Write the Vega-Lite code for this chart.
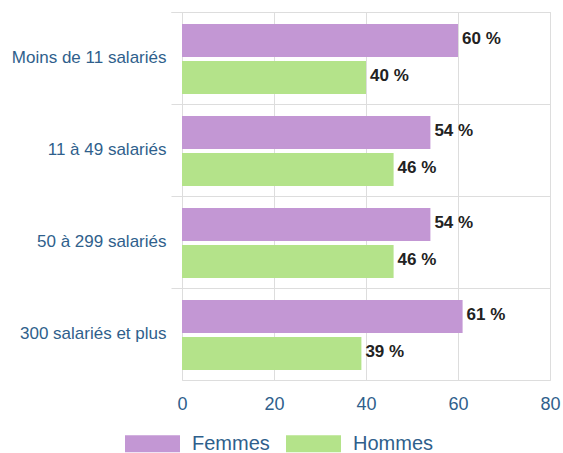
{
  "$schema": "https://vega.github.io/schema/vega-lite/v6.json",
  "width": 368,
  "height": 368,
  "autosize": {"type": "none"},
  "padding": {"left": 182, "top": 12, "right": 13, "bottom": 73},
  "background": "white",
  "config": {
    "view": {"stroke": "#dddddd"},
    "font": "Liberation Sans"
  },
  "data": {
    "values": [
      {"taille": "Moins de 11 salariés", "sexe": "Femmes", "part": 60, "label": "60 %"},
      {"taille": "Moins de 11 salariés", "sexe": "Hommes", "part": 40, "label": "40 %"},
      {"taille": "11 à 49 salariés", "sexe": "Femmes", "part": 54, "label": "54 %"},
      {"taille": "11 à 49 salariés", "sexe": "Hommes", "part": 46, "label": "46 %"},
      {"taille": "50 à 299 salariés", "sexe": "Femmes", "part": 54, "label": "54 %"},
      {"taille": "50 à 299 salariés", "sexe": "Hommes", "part": 46, "label": "46 %"},
      {"taille": "300 salariés et plus", "sexe": "Femmes", "part": 61, "label": "61 %"},
      {"taille": "300 salariés et plus", "sexe": "Hommes", "part": 39, "label": "39 %"}
    ]
  },
  "encoding": {
    "y": {
      "field": "taille",
      "type": "nominal",
      "sort": ["Moins de 11 salariés", "11 à 49 salariés", "50 à 299 salariés", "300 salariés et plus"],
      "scale": {"paddingInner": 0, "paddingOuter": 0},
      "axis": {
        "title": null,
        "domain": false,
        "bandPosition": 0,
        "tickExtra": true,
        "ticks": true,
        "tickSize": 11,
        "tickColor": "#dddddd",
        "grid": true,
        "gridColor": "#dddddd",
        "labelFontSize": 17,
        "labelColor": "#2f5f8c",
        "labelPadding": 5
      }
    },
    "yOffset": {
      "field": "sexe",
      "type": "nominal",
      "sort": ["Femmes", "Hommes"],
      "scale": {"paddingInner": 0.108, "paddingOuter": 0.297, "align": 0.545}
    },
    "x": {
      "field": "part",
      "type": "quantitative",
      "scale": {"domain": [0, 80]},
      "axis": {
        "title": null,
        "values": [0, 20, 40, 60, 80],
        "domain": false,
        "ticks": false,
        "grid": true,
        "gridColor": "#dddddd",
        "labelFlush": false,
        "labelFontSize": 18,
        "labelColor": "#2f5f8c",
        "labelPadding": 15
      }
    }
  },
  "layer": [
    {
      "mark": {"type": "bar"},
      "encoding": {
        "color": {
          "field": "sexe",
          "type": "nominal",
          "sort": ["Femmes", "Hommes"],
          "scale": {"domain": ["Femmes", "Hommes"], "range": ["#c397d4", "#b4e38a"]},
          "legend": {
            "title": null,
            "orient": "none",
            "direction": "horizontal",
            "legendX": -57,
            "legendY": 404,
            "symbolType": "M-1,-0.31L1,-0.31L1,0.31L-1,0.31Z",
            "symbolSize": 3025,
            "symbolStrokeWidth": 0,
            "symbolOpacity": 1,
            "labelFontSize": 20,
            "labelColor": "#2f5f8c",
            "labelOffset": 12,
            "columnPadding": 16
          }
        }
      }
    },
    {
      "mark": {"type": "text", "align": "left", "dx": 4, "dy": -1, "fontSize": 17, "fontWeight": "bold", "color": "#222222"},
      "encoding": {
        "text": {"field": "label"}
      }
    }
  ]
}
